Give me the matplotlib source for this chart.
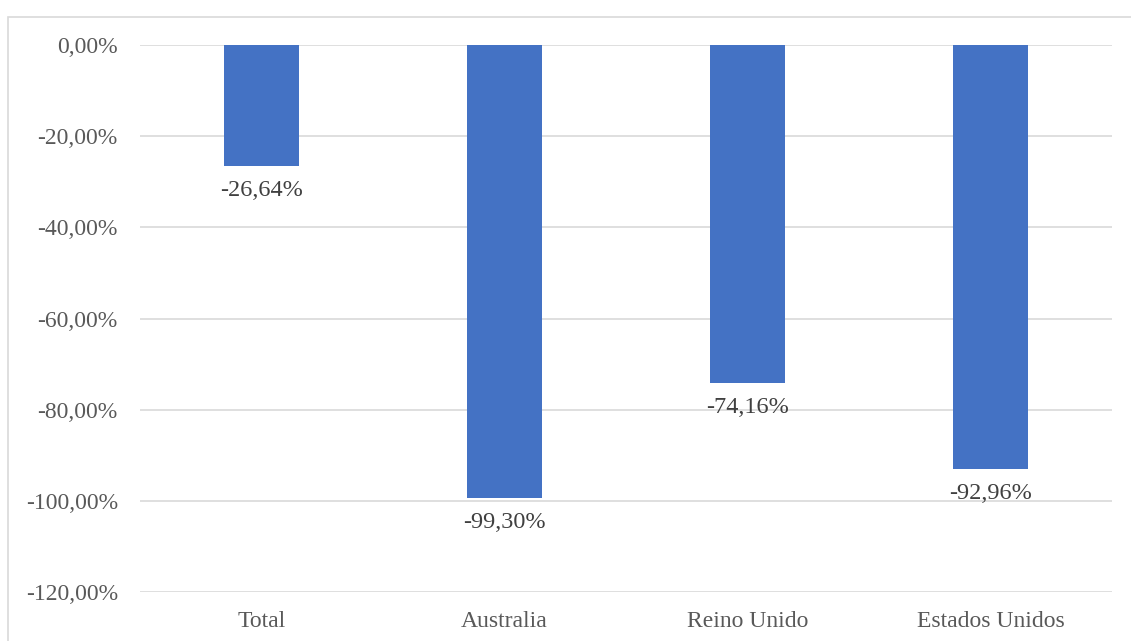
import matplotlib.pyplot as plt
from matplotlib.patches import Rectangle

categories = ["Total", "Australia", "Reino Unido", "Estados Unidos"]
values = [-26.64, -99.30, -74.16, -92.96]
yticks = [0, -20, -40, -60, -80, -100, -120]

plt.rcParams["font.family"] = ["Liberation Serif", "DejaVu Serif"]

fig = plt.figure(figsize=(11.31, 6.41), dpi=100)
ax = fig.add_axes([0.1238, 0.0764, 0.8594, 0.8534])

# light frame around the chart area
fig.patches.append(Rectangle((8 / 1131, -0.1), 1.2, 1.1 - 17 / 641,
                             transform=fig.transFigure, fill=False,
                             edgecolor="#d9d9d9", linewidth=1.2))

x = range(len(categories))
ax.bar(x, values, width=0.31, color="#4472c4", zorder=3)

for xi, v in zip(x, values):
    label = f"{v:.2f}%".replace(".", ",")
    ax.annotate(label, (xi, v), xytext=(0, -10), textcoords="offset points",
                ha="center", va="top", fontsize=17.5, color="#404040", zorder=4)

ax.set_xlim(-0.5, len(categories) - 0.5)
ax.set_ylim(-120, 0)
ax.set_yticks(yticks)
ax.set_yticklabels([f"{t:.2f}%".replace(".", ",") for t in yticks])
ax.set_xticks(list(x))
ax.set_xticklabels(categories)
ax.tick_params(axis="both", length=0, labelsize=17, labelcolor="#595959")
ax.tick_params(axis="y", pad=16)
ax.tick_params(axis="x", pad=14)
ax.grid(axis="y", color="#d9d9d9", linewidth=1.2, zorder=0)
for s in ax.spines.values():
    s.set_visible(False)

fig.savefig("out.png", dpi=100)
